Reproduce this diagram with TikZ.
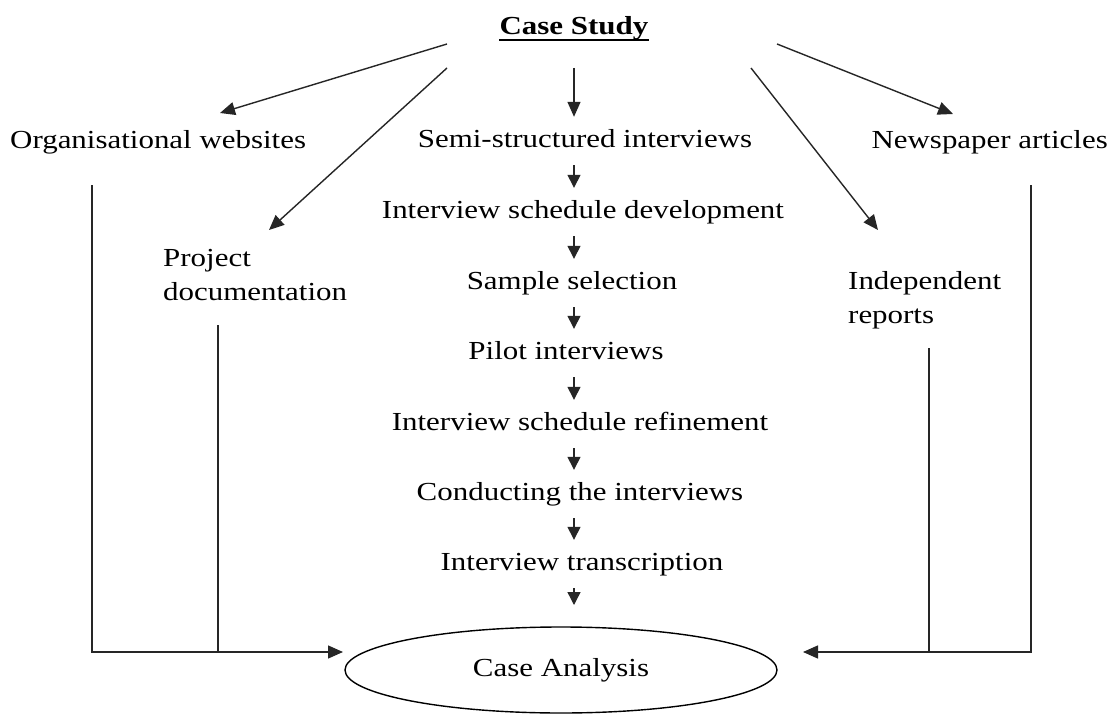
\documentclass[tikz,border=0pt]{standalone}
\usepackage{fontspec}
\setmainfont{Liberation Serif}[FakeStretch=1.19]
\usetikzlibrary{arrows.meta,shapes.geometric}
\begin{document}
\begin{tikzpicture}[x=1pt,y=-1pt,
  every node/.style={font=\fontsize{26}{34}\selectfont, inner sep=0pt},
  stage/.style={text height=18pt, text depth=6pt, minimum height=48pt},
  ln/.style={line width=1.4pt, draw=black!85},
  big/.style={ln, -{Triangle[length=15pt,width=13pt]}},
  sm/.style={ln, -{Triangle[length=13pt,width=13pt]}},
  ana/.style={ellipse, draw, line width=1.4pt, minimum width=432pt, minimum height=86pt}]
\useasboundingbox (0,0) rectangle (1112,717);
\fill[white] (0,0) rectangle (1112,717);
% title
\node[anchor=base, font=\fontsize{26}{34}\selectfont\bfseries] (title) at (574,35) {Case Study};
\draw[line width=1.4pt] ([yshift=-5pt]title.base west) -- ([yshift=-5pt]title.base east);
% side texts
\node[anchor=base west] (org) at (10,148) {Organisational websites};
\node[anchor=base east] (news) at (1108,148) {Newspaper articles};
\node[anchor=base west, align=left] (proj) at (163,300) {Project\\documentation};
\node[anchor=base west, align=left] (ind) at (848,323) {Independent\\reports};
% central chain
\node[stage] (s1) at (585,141) {Semi-structured interviews};
\node[stage] (s2) at (583,212) {Interview schedule development};
\node[stage] (s3) at (572,283) {Sample selection};
\node[stage] (s4) at (566,353) {Pilot interviews};
\node[stage] (s5) at (580,424) {Interview schedule refinement};
\node[stage] (s6) at (580,494) {Conducting the interviews};
\node[stage] (s7) at (582,564) {Interview transcription};
\node[ana] (ca) at (561,670) {Case Analysis};
% coordinates
\coordinate (col) at (574,0);
\coordinate (a1) at (447,44);
\coordinate (a2) at (447,68);
\coordinate (a3) at (574,68);
\coordinate (a4) at (751,68);
\coordinate (a5) at (777,44);
\coordinate (t1) at (220,113);
\coordinate (t2) at (269,230);
\coordinate (t4) at (878,230);
\coordinate (t5) at (953,114);
\coordinate (caTop) at (574,605);
\coordinate (oTop) at (92,185);
\coordinate (pTop) at (218,325);
\coordinate (nTop) at (1031,185);
\coordinate (iTop) at (929,348);
\coordinate (cL) at (343,652);
\coordinate (cR) at (803,652);
% arrows from title
\draw[big] (a1) -- (t1);
\draw[big] (a2) -- (t2);
\draw[big] (a3) -- (col |- s1.north);
\draw[big] (a4) -- (t4);
\draw[big] (a5) -- (t5);
% chain arrows
\draw[sm] (col |- s1.south) -- (col |- s2.north);
\draw[sm] (col |- s2.south) -- (col |- s3.north);
\draw[sm] (col |- s3.south) -- (col |- s4.north);
\draw[sm] (col |- s4.south) -- (col |- s5.north);
\draw[sm] (col |- s5.south) -- (col |- s6.north);
\draw[sm] (col |- s6.south) -- (col |- s7.north);
\draw[sm] (col |- s7.south) -- (caTop);
% side lines to case analysis
\draw[big] (oTop) |- (cL);
\draw[ln] (pTop) -- (pTop |- cL);
\draw[big] (nTop) |- (cR);
\draw[ln] (iTop) -- (iTop |- cR);
\end{tikzpicture}
\end{document}
